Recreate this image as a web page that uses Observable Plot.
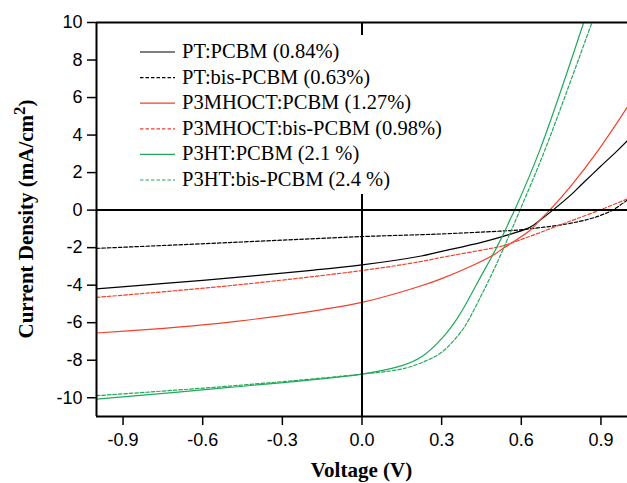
<!DOCTYPE html>
<html><head><meta charset="utf-8">
<script src="https://cdn.jsdelivr.net/npm/d3@7"></script>
<script src="https://cdn.jsdelivr.net/npm/@observablehq/plot@0.6"></script>
<style>
html,body{margin:0;padding:0;background:#fff;overflow:hidden;}
#chart{position:relative;width:627px;height:483px;}
</style></head><body><div id="chart"></div>
<script>
// Series metadata
const seriesNames = ["PT:PCBM (0.84%)", "PT:bis-PCBM (0.63%)", "P3MHOCT:PCBM (1.27%)", "P3MHOCT:bis-PCBM (0.98%)", "P3HT:PCBM (2.1 %)", "P3HT:bis-PCBM (2.4 %)"];
const seriesColors = ["#000000", "#000000", "#f2402a", "#f2402a", "#21a95a", "#21a95a"];
const seriesDashed = [false, true, false, true, false, true];

// Voltage (V) and current density (mA/cm2)
const ptPcbmV = [-1, -0.8, -0.6, -0.4, -0.2, 0, 0.218, 0.3, 0.45, 0.531, 0.632, 0.669, 0.719, 0.79, 0.826, 0.9, 0.964, 1.0];
const ptPcbmJ = [-4.2, -3.97, -3.74, -3.49, -3.22, -2.92, -2.46, -2.2, -1.72, -1.4, -0.92, -0.55, 0, 0.85, 1.35, 2.35, 3.2, 3.7];

const ptBisV = [-1, -0.5, 0, 0.218, 0.3, 0.519, 0.594, 0.77, 0.857, 0.895, 0.944, 1.0];
const ptBisJ = [-2.04, -1.73, -1.41, -1.31, -1.27, -1.12, -1.05, -0.74, -0.47, -0.3, 0, 0.55];

const mhoctPcbmV = [-1, -0.8, -0.6, -0.474, -0.3, -0.15, 0, 0.218, 0.3, 0.406, 0.5, 0.531, 0.632, 0.669, 0.707, 0.788, 0.889, 1.0];
const mhoctPcbmJ = [-6.55, -6.36, -6.12, -5.93, -5.62, -5.3, -4.92, -4.06, -3.65, -3.02, -2.35, -2.05, -1.09, -0.55, 0, 1.31, 3.17, 5.5];

const mhoctBisV = [-1, -0.5, 0, 0.218, 0.3, 0.5, 0.531, 0.632, 0.738, 0.895, 1.0];
const mhoctBisJ = [-4.65, -4.03, -3.22, -2.75, -2.52, -2.0, -1.9, -1.4, -0.83, 0, 0.6];

const p3htPcbmV = [-1, -0.5, 0, 0.15, 0.226, 0.3, 0.362, 0.451, 0.501, 0.539, 0.556, 0.575, 0.669, 0.835];
const p3htPcbmJ = [-10.07, -9.45, -8.74, -8.29, -7.8, -6.85, -5.7, -3.45, -2.16, -1.09, -0.56, 0, 3.17, 10];

const p3htBisV = [-1, -0.5, 0, 0.15, 0.226, 0.3, 0.376, 0.4, 0.451, 0.501, 0.551, 0.595, 0.688, 0.866];
const p3htBisJ = [-9.89, -9.38, -8.74, -8.47, -8.12, -7.58, -6.43, -5.89, -4.5, -3.05, -1.45, 0, 3.17, 10];

const seriesV = [ptPcbmV, ptBisV, mhoctPcbmV, mhoctBisV, p3htPcbmV, p3htBisV];
const seriesJ = [ptPcbmJ, ptBisJ, mhoctPcbmJ, mhoctBisJ, p3htPcbmJ, p3htBisJ];

// Axes
const xDomain = [-1, 1];
const yDomain = [-11, 10];
const xTicks = [-0.9, -0.6, -0.3, 0, 0.3, 0.6, 0.9];
const yTicks = [-10, -8, -6, -4, -2, 0, 2, 4, 6, 8, 10];
const xTitle = "Voltage (V)";
const yTitleMain = "Current Density (mA/cm";
const yTitleSup = "2";
const yTitleEnd = ")";

const data = [];
seriesNames.forEach((name, i) => {
  seriesV[i].forEach((v, k) => data.push({series: name, idx: i, v, j: seriesJ[i][k]}));
});

const fmtX = d => (d < 0 ? "-" : "") + Math.abs(d).toFixed(1);
const fmtY = d => (d < 0 ? "-" : "") + Math.abs(d);

const W = 627, H = 483, ML = 96, MR = 0, MT = 22, MB = 67;

const plot = Plot.plot({
  width: W, height: H,
  marginLeft: ML, marginRight: MR, marginTop: MT, marginBottom: MB,
  x: {domain: xDomain},
  y: {domain: yDomain},
  style: {fontFamily: "'Liberation Sans', Arial, sans-serif", fontSize: "18px", background: "#fff", color: "#000", overflow: "visible"},
  marks: [
    ...seriesNames.map((name, i) => Plot.line(data.filter(d => d.idx === i), {
      x: "v", y: "j", stroke: seriesColors[i], strokeWidth: 1.2,
      strokeDasharray: seriesDashed[i] ? "3.5,2" : null, curve: "catmull-rom", clip: true
    })),
    Plot.ruleY([0], {stroke: "#000", strokeWidth: 2}),
    Plot.ruleX([0], {stroke: "#000", strokeWidth: 2}),
    Plot.ruleY([yDomain[1]], {stroke: "#000", strokeWidth: 2}),
    Plot.ruleY([yDomain[0]], {stroke: "#000", strokeWidth: 2}),
    Plot.ruleX([xDomain[0]], {stroke: "#000", strokeWidth: 2}),
    Plot.axisX(xTicks, {tickSize: 9, tickPadding: 8, tickFormat: fmtX, fontSize: 18, label: null, strokeWidth: 1.5}),
    Plot.axisY(yTicks, {tickSize: 9, tickPadding: 5, tickFormat: fmtY, fontSize: 18, label: null, strokeWidth: 1.5})
  ]
});

document.getElementById("chart").appendChild(plot);
const svg = d3.select(plot);
const serif = "'Liberation Serif', 'Times New Roman', serif";

// Axis titles
svg.append("text")
  .attr("x", (ML + W - MR) / 2).attr("y", 477)
  .attr("text-anchor", "middle").attr("font-family", serif)
  .attr("font-weight", "bold").attr("font-size", 21).attr("fill", "#000")
  .text(xTitle);

const yt = svg.append("text")
  .attr("transform", `translate(33,${(MT + H - MB) / 2}) rotate(-90)`)
  .attr("text-anchor", "middle").attr("font-family", serif)
  .attr("font-weight", "bold").attr("font-size", 21).attr("fill", "#000");
yt.append("tspan").text(yTitleMain);
yt.append("tspan").attr("font-size", 17).attr("dy", -8).text(yTitleSup);
yt.append("tspan").attr("dy", 8).text(yTitleEnd);

// Legend
const lg = svg.append("g");
lg.append("rect").attr("x", 128).attr("y", 35).attr("width", 322).attr("height", 159).attr("fill", "#fff");
seriesNames.forEach((name, i) => {
  const cy = 52 + i * 25.6;
  lg.append("line").attr("x1", 140).attr("x2", 175).attr("y1", cy).attr("y2", cy)
    .attr("stroke", seriesColors[i]).attr("stroke-width", 1.2)
    .attr("stroke-dasharray", seriesDashed[i] ? "3.5,2" : null);
  lg.append("text").attr("x", 182).attr("y", cy + 6)
    .attr("text-anchor", "start")
    .attr("font-family", serif).attr("font-size", 20.5).attr("fill", "#000")
    .text(name);
});
</script>
</body></html>
